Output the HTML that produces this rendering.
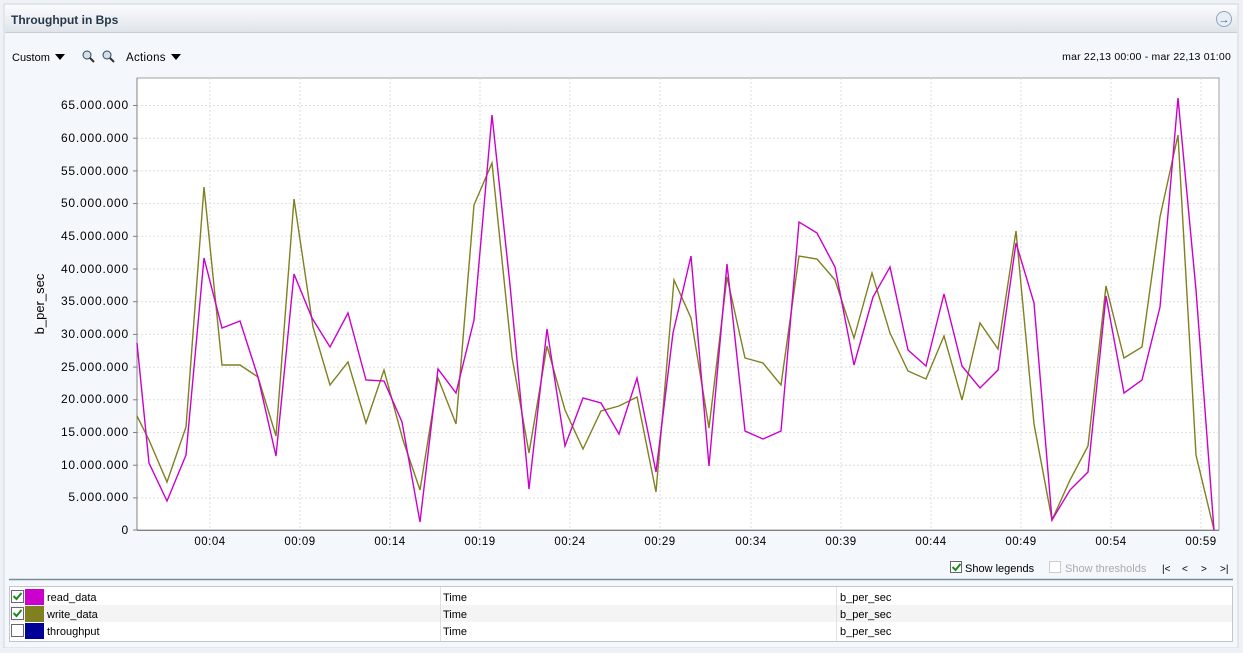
<!DOCTYPE html>
<html><head><meta charset="utf-8"><style>
body{margin:0;width:1243px;height:648px;overflow:hidden;background:#eef1f5;font-family:"Liberation Sans",sans-serif;}
</style></head><body>
<svg width="1243" height="648" xmlns="http://www.w3.org/2000/svg" font-family="Liberation Sans, sans-serif">
<defs>
<linearGradient id="hd" x1="0" y1="0" x2="0" y2="1"><stop offset="0" stop-color="#fbfbfd"/><stop offset="1" stop-color="#dfe4ea"/></linearGradient>
</defs>
<rect x="0" y="0" width="1243" height="648" fill="#eef1f5"/>
<rect x="4" y="4" width="1234" height="644" fill="#f4f8fc" stroke="#d0d6de"/>
<rect x="5" y="5" width="1232" height="27" fill="url(#hd)"/>
<line x1="5" y1="32.5" x2="1237" y2="32.5" stroke="#c8ced6"/>
<text x="11" y="24" font-size="12" font-weight="bold" fill="#26374a">Throughput in Bps</text>
<circle cx="1224" cy="19" r="7.5" fill="#e8eef6" stroke="#8fa4bf"/>
<text x="1224" y="23" font-size="11" text-anchor="middle" fill="#3b5f8c" font-weight="bold">→</text>
<text x="12" y="61" font-size="11" fill="#000">Custom</text>
<path d="M55 54 l10 0 l-5 6z" fill="#000"/>
<circle cx="87" cy="55" r="4" fill="#cfe0ef" stroke="#345"/><line x1="90" y1="58" x2="94" y2="62" stroke="#333" stroke-width="2"/>
<circle cx="107" cy="55" r="4" fill="#cfe0ef" stroke="#345"/><line x1="110" y1="58" x2="114" y2="62" stroke="#333" stroke-width="2"/>
<text x="126" y="61" font-size="11.5" fill="#000" letter-spacing="0.3">Actions</text>
<path d="M171 54 l10 0 l-5 6z" fill="#000"/>
<text x="1231" y="60" font-size="10.5" text-anchor="end" fill="#000" letter-spacing="0.2">mar 22,13 00:00 - mar 22,13 01:00</text>
<rect x="137" y="78" width="1082" height="452" fill="#fff" stroke="#a0a0a0"/>
<g stroke="#dedede" stroke-dasharray="2,2">
<line x1="137" x2="1219" y1="105.5" y2="105.5"/><line x1="137" x2="1219" y1="138.2" y2="138.2"/><line x1="137" x2="1219" y1="170.9" y2="170.9"/><line x1="137" x2="1219" y1="203.6" y2="203.6"/><line x1="137" x2="1219" y1="236.3" y2="236.3"/><line x1="137" x2="1219" y1="269" y2="269"/><line x1="137" x2="1219" y1="301.7" y2="301.7"/><line x1="137" x2="1219" y1="334.4" y2="334.4"/><line x1="137" x2="1219" y1="367.1" y2="367.1"/><line x1="137" x2="1219" y1="399.8" y2="399.8"/><line x1="137" x2="1219" y1="432.5" y2="432.5"/><line x1="137" x2="1219" y1="465.2" y2="465.2"/><line x1="137" x2="1219" y1="497.9" y2="497.9"/>
<line y1="78" y2="530" x1="210" x2="210"/><line y1="78" y2="530" x1="300" x2="300"/><line y1="78" y2="530" x1="390" x2="390"/><line y1="78" y2="530" x1="480" x2="480"/><line y1="78" y2="530" x1="570" x2="570"/><line y1="78" y2="530" x1="660" x2="660"/><line y1="78" y2="530" x1="751" x2="751"/><line y1="78" y2="530" x1="841" x2="841"/><line y1="78" y2="530" x1="931" x2="931"/><line y1="78" y2="530" x1="1021" x2="1021"/><line y1="78" y2="530" x1="1111" x2="1111"/><line y1="78" y2="530" x1="1201" x2="1201"/>
</g>
<line x1="137" y1="78" x2="137" y2="530" stroke="#808080"/>
<line x1="137" y1="530.5" x2="1219" y2="530.5" stroke="#808080"/>
<g font-size="12" fill="#000" text-anchor="end" letter-spacing="0.8">
<text x="129" y="109">65.000.000</text><text x="129" y="142">60.000.000</text><text x="129" y="175">55.000.000</text><text x="129" y="207">50.000.000</text><text x="129" y="240">45.000.000</text><text x="129" y="273">40.000.000</text><text x="129" y="305">35.000.000</text><text x="129" y="338">30.000.000</text><text x="129" y="371">25.000.000</text><text x="129" y="403">20.000.000</text><text x="129" y="436">15.000.000</text><text x="129" y="469">10.000.000</text><text x="129" y="501">5.000.000</text><text x="129" y="534">0</text>
</g>
<g stroke="#808080"><line x1="133" x2="137" y1="105.5" y2="105.5"/><line x1="133" x2="137" y1="138.2" y2="138.2"/><line x1="133" x2="137" y1="170.9" y2="170.9"/><line x1="133" x2="137" y1="203.6" y2="203.6"/><line x1="133" x2="137" y1="236.3" y2="236.3"/><line x1="133" x2="137" y1="269" y2="269"/><line x1="133" x2="137" y1="301.7" y2="301.7"/><line x1="133" x2="137" y1="334.4" y2="334.4"/><line x1="133" x2="137" y1="367.1" y2="367.1"/><line x1="133" x2="137" y1="399.8" y2="399.8"/><line x1="133" x2="137" y1="432.5" y2="432.5"/><line x1="133" x2="137" y1="465.2" y2="465.2"/><line x1="133" x2="137" y1="497.9" y2="497.9"/><line x1="133" x2="137" y1="530" y2="530"/></g>
<g font-size="11.5" fill="#000" text-anchor="middle" letter-spacing="0.5">
<text x="210" y="545">00:04</text><text x="300" y="545">00:09</text><text x="390" y="545">00:14</text><text x="480" y="545">00:19</text><text x="570" y="545">00:24</text><text x="660" y="545">00:29</text><text x="751" y="545">00:34</text><text x="841" y="545">00:39</text><text x="931" y="545">00:44</text><text x="1021" y="545">00:49</text><text x="1111" y="545">00:54</text><text x="1201" y="545">00:59</text>
</g>
<text transform="translate(44,304) rotate(-90)" font-size="13" text-anchor="middle" fill="#000">b_per_sec</text>
<polyline fill="none" stroke="#808020" stroke-width="1.4" points="137,416 149,440 167,482 186,427 204,187 222,365 240,365 258,377 276,436 294,199 313,327 330,385 348,362 366,423 384,370 403,440 420,490 438,378 456,424 474,205 492,163 512,357 529,453 547,346 565,410 583,449 601,411 619,406 637,397 656,492 674,280 691,318 709,428 727,277 745,358 763,363 781,385 799,256 817,259 835,280 854,338 872,273 890,333 908,371 926,379 944,336 962,400 980,323 998,349 1016,231 1034,424 1052,520 1070,480 1088,446 1106,286 1124,358 1142,347 1160,217 1178,135 1196,455 1214,530"/>
<polyline fill="none" stroke="#cc00cc" stroke-width="1.4" points="137,343 149,463 167,501 186,455 204,258 222,328 240,321 258,377 276,456 294,274 312,318 330,347 348,313 366,380 384,381 402,422 420,522 438,369 456,393 474,320 492,115 510,285 529,489 547,329 565,446 583,398 601,403 619,434 637,378 656,472 673,333 691,256 709,466 727,264 745,431 763,439 781,431 799,222 817,233 835,267 854,365 873,297 890,267 908,350 926,366 944,294 962,366 980,388 998,370 1016,243 1034,303 1052,520 1070,490 1088,472 1106,296 1124,393 1142,380 1160,307 1178,98 1196,290 1214,530"/>
<rect x="950.5" y="561.5" width="11" height="11" fill="#fff" stroke="#666"/>
<path d="M952.5 567 l3 3 l5 -6" fill="none" stroke="#1a8a1a" stroke-width="2"/>
<text x="965" y="572" font-size="11" fill="#000">Show legends</text>
<rect x="1049.5" y="561.5" width="11" height="11" fill="#fff" stroke="#ccc"/>
<text x="1065" y="572" font-size="11" fill="#aaa">Show thresholds</text>
<text x="1162" y="572" font-size="10" fill="#000">|&lt;</text><text x="1182" y="572" font-size="10" fill="#000">&lt;</text><text x="1201" y="572" font-size="10" fill="#000">&gt;</text><text x="1220" y="572" font-size="10" fill="#000">&gt;|</text>
<line x1="9" y1="579.5" x2="1233" y2="579.5" stroke="#7d8a98" stroke-width="1.5"/>
<rect x="9.5" y="586.5" width="1223" height="55" fill="#fff" stroke="#c0c6cc"/>
<rect x="10" y="605" width="1222" height="17" fill="#f4f4f4"/>
<line x1="440.5" y1="587" x2="440.5" y2="641" stroke="#e0e0e0"/><line x1="836.5" y1="587" x2="836.5" y2="641" stroke="#e0e0e0"/>
<rect x="11.5" y="590.5" width="12" height="12" fill="#fff" stroke="#667"/><path d="M13.5 596 l3 3 l5 -6" fill="none" stroke="#1a8a1a" stroke-width="2"/>
<rect x="25" y="589" width="19" height="16" fill="#cc00cc"/>
<rect x="11.5" y="607.5" width="12" height="12" fill="#fff" stroke="#667"/><path d="M13.5 613 l3 3 l5 -6" fill="none" stroke="#1a8a1a" stroke-width="2"/>
<rect x="25" y="606" width="19" height="16" fill="#808020"/>
<rect x="11.5" y="624.5" width="12" height="12" fill="#fff" stroke="#667"/>
<rect x="25" y="623" width="19" height="16" fill="#000099"/>
<g font-size="11" fill="#000">
<text x="47" y="601">read_data</text><text x="443" y="601">Time</text><text x="840" y="601">b_per_sec</text>
<text x="47" y="618">write_data</text><text x="443" y="618">Time</text><text x="840" y="618">b_per_sec</text>
<text x="47" y="635">throughput</text><text x="443" y="635">Time</text><text x="840" y="635">b_per_sec</text>
</g>
</svg>
</body></html>
